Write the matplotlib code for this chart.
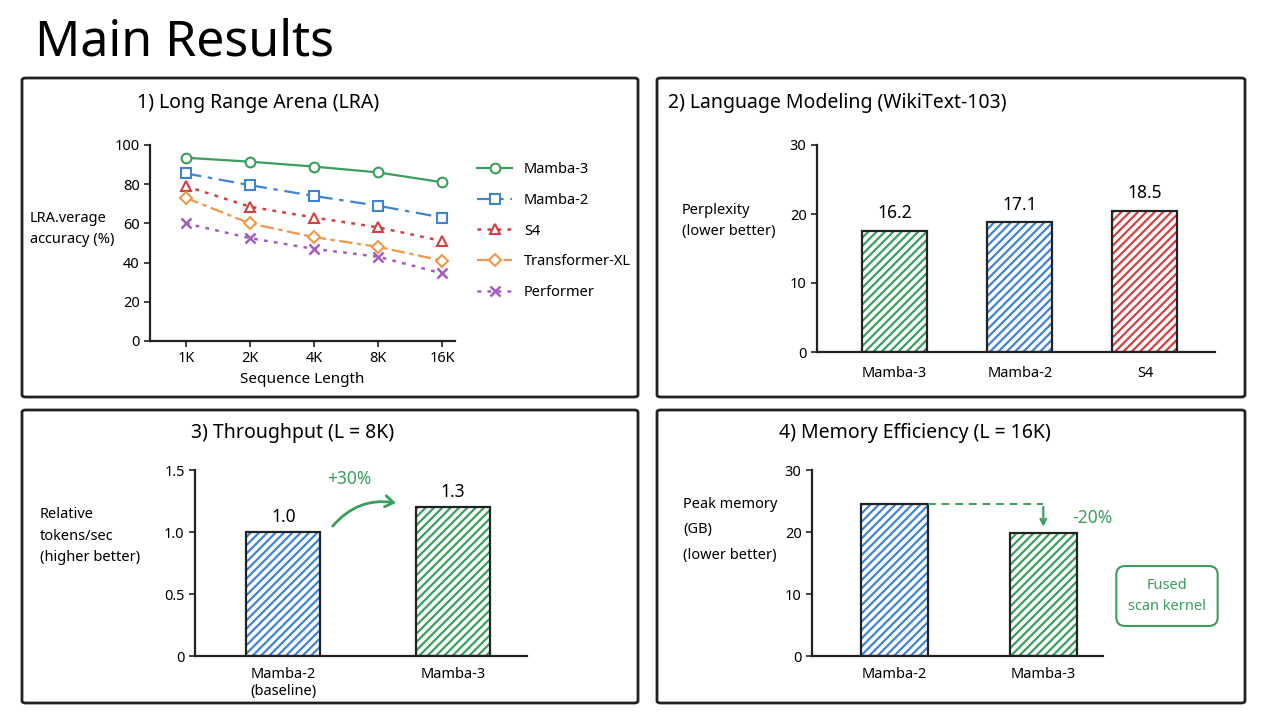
import numpy as np
import matplotlib
matplotlib.use("Agg")
import matplotlib.pyplot as plt
from matplotlib.patches import FancyBboxPatch, FancyArrowPatch

plt.rcParams['font.family'] = ['Noto Sans', 'DejaVu Sans']
plt.rcParams['hatch.linewidth'] = 1.6

# ---- data ----
seq_len = ['1K', '2K', '4K', '8K', '16K']
lra_models = ['Mamba-3', 'Mamba-2', 'S4', 'Transformer-XL', 'Performer']
lra_mamba3 = [93.5, 91.5, 89, 86, 81]
lra_mamba2 = [85.5, 79.5, 74, 69, 63]
lra_s4 = [79, 68.5, 63, 58, 51]
lra_txl = [73, 60, 53, 48, 41]
lra_perf = [60, 52.5, 47, 43, 34.5]

lm_models = ['Mamba-3', 'Mamba-2', 'S4']
lm_bar = [17.6, 18.8, 20.5]          # bar heights as drawn
lm_labels = ['16.2', '17.1', '18.5']  # printed values

tp_models = ['Mamba-2\n(baseline)', 'Mamba-3']
tp_bar = [1.0, 1.2]
tp_labels = ['1.0', '1.3']

mem_models = ['Mamba-2', 'Mamba-3']
mem_bar = [24.5, 19.8]

GREEN = '#3a9e5c'
BLUE = '#3f84d4'
RED = '#d2403f'
ORANGE = '#f0984a'
PURPLE = '#a45cc0'

fig = plt.figure(figsize=(12.8, 7.2), dpi=100)
fig.patch.set_facecolor('white')

fig.text(35/1280, 1 - 42/720, 'Main Results', fontsize=36, va='center', ha='left')

# panel frames (pixel coords -> fraction)
def frame(x0, y0, x1, y1):
    p = FancyBboxPatch((x0/1280, 1 - y1/720), (x1-x0)/1280, (y1-y0)/720,
                       boxstyle='round,pad=0,rounding_size=0.003',
                       transform=fig.transFigure, fill=False, lw=2, ec='#222222')
    fig.patches.append(p)

frame(22, 78, 638, 397)
frame(657, 78, 1245, 397)
frame(22, 410, 638, 703)
frame(657, 410, 1245, 703)

def make_ax(l, r, b, t):
    ax = fig.add_axes([l/1280, 1 - b/720, (r-l)/1280, (b-t)/720])
    for s in ['top', 'right']:
        ax.spines[s].set_visible(False)
    for s in ['left', 'bottom']:
        ax.spines[s].set_linewidth(1.6)
        ax.spines[s].set_color('#222222')
    ax.tick_params(labelsize=10.5, length=4, width=1.2, color='#222222')
    return ax

def hbar(ax, x, h, colors, width):
    ax.bar(x, h, width, color='white', edgecolor=colors, hatch='////', lw=0)
    ax.bar(x, h, width, fill=False, edgecolor='#222222', lw=1.6)

# ---- 1) LRA ----
ax1 = make_ax(150, 455, 341, 145)
xs = np.arange(len(seq_len))
mk = dict(ms=7, mfc='white', mew=1.5)
ax1.plot(xs, lra_mamba3, color=GREEN, ls='-', marker='o', lw=1.6, label=lra_models[0], **mk)
ax1.plot(xs, lra_mamba2, color=BLUE, ls=(0, (7, 3, 2, 3)), marker='s', lw=1.6, label=lra_models[1], **mk)
ax1.plot(xs, lra_s4, color=RED, ls=(0, (1.5, 2.5)), marker='^', lw=1.8, label=lra_models[2], **mk)
ax1.plot(xs, lra_txl, color=ORANGE, ls=(0, (6, 2, 2, 2)), marker='D', lw=1.6, label=lra_models[3], ms=6, mfc='white', mew=1.5)
ax1.plot(xs, lra_perf, color=PURPLE, ls=(0, (1.5, 2.5)), marker='x', lw=1.8, label=lra_models[4], ms=7, mew=1.8)
ax1.set_xlim(-0.56, 4.2)
ax1.set_ylim(0, 100)
ax1.set_xticks(xs)
ax1.set_xticklabels(seq_len)
ax1.set_yticks([0, 20, 40, 60, 80, 100])
ax1.set_xlabel('Sequence Length', fontsize=11)
ax1.legend(loc='upper left', bbox_to_anchor=(1.03, 0.98), frameon=False,
           fontsize=10.5, labelspacing=1.08, handlelength=2.4)
fig.text(30/1280, 1 - 229/720, 'LRA.verage\naccuracy (%)', fontsize=10.5,
         ha='left', va='center', linespacing=1.6)
fig.text(258/1280, 1 - 103/720, '1) Long Range Arena (LRA)', fontsize=14, ha='center', va='center')

# ---- 2) Language modeling ----
ax2 = make_ax(817, 1215, 352, 145)
x2 = np.arange(len(lm_models))
hbar(ax2, x2, lm_bar, [GREEN, BLUE, RED], 0.52)
for xi, h, t in zip(x2, lm_bar, lm_labels):
    ax2.text(xi, h + 1.2, t, ha='center', va='bottom', fontsize=12.5)
ax2.set_xlim(-0.62, 2.56)
ax2.set_ylim(0, 30)
ax2.set_yticks([0, 10, 20, 30])
ax2.set_xticks(x2)
ax2.set_xticklabels(lm_models)
ax2.tick_params(axis='x', length=0, pad=10)
fig.text(682/1280, 1 - 221/720, 'Perplexity\n(lower better)', fontsize=10.5,
         ha='left', va='center', linespacing=1.6)
fig.text(837/1280, 1 - 103/720, '2) Language Modeling (WikiText-103)', fontsize=14, ha='center', va='center')

# ---- 3) Throughput ----
ax3 = make_ax(195, 527, 656, 470)
x3 = np.arange(len(tp_models))
hbar(ax3, x3, tp_bar, [BLUE, GREEN], 0.435)
for xi, h, t in zip(x3, tp_bar, tp_labels):
    ax3.text(xi, h + 0.05, t, ha='center', va='bottom', fontsize=12.5)
ax3.set_xlim(-0.52, 1.435)
ax3.set_ylim(0, 1.5)
ax3.set_yticks([0, 0.5, 1.0, 1.5])
ax3.set_yticklabels(['0', '0.5', '1.0', '1.5'])
ax3.set_xticks(x3)
ax3.set_xticklabels(tp_models)
ax3.tick_params(axis='x', length=0, pad=8)
arr = FancyArrowPatch((0.28, 1.03), (0.68, 1.23), connectionstyle='arc3,rad=-0.3',
                      arrowstyle='->,head_length=6,head_width=4', color=GREEN, lw=2,
                      mutation_scale=1)
ax3.add_patch(arr)
ax3.text(0.39, 1.43, '+30%', color=GREEN, fontsize=12.5, ha='center', va='center')
fig.text(40/1280, 1 - 536/720, 'Relative\ntokens/sec\n(higher better)', fontsize=10.5,
         ha='left', va='center', linespacing=1.6)
fig.text(293/1280, 1 - 433/720, '3) Throughput (L = 8K)', fontsize=14, ha='center', va='center')

# ---- 4) Memory ----
ax4 = make_ax(812, 1103, 656, 470)
x4 = np.arange(len(mem_models))
hbar(ax4, x4, mem_bar, [BLUE, GREEN], 0.45)
ax4.set_xlim(-0.55, 1.40)
ax4.set_ylim(0, 30)
ax4.set_yticks([0, 10, 20, 30])
ax4.set_xticks(x4)
ax4.set_xticklabels(mem_models)
ax4.tick_params(axis='x', length=0, pad=8)
ax4.plot([0.225, 1], [mem_bar[0], mem_bar[0]], color=GREEN, ls=(0, (4, 3)), lw=1.4)
ax4.annotate('', xy=(1, mem_bar[1] + 0.6), xytext=(1, mem_bar[0]),
             arrowprops=dict(arrowstyle='->', color=GREEN, lw=1.6))
ax4.text(1.33, 22.3, '-20%', color=GREEN, fontsize=12.5, ha='center', va='center')
fig.text(1167/1280, 1 - 596/720, 'Fused\nscan kernel', color=GREEN, fontsize=10.5,
         ha='center', va='center', linespacing=1.6,
         bbox=dict(boxstyle='round,pad=0.8,rounding_size=0.6', fc='white', ec=GREEN, lw=1.5))
fig.text(683/1280, 1 - 530/720, 'Peak memory\n(GB)\n(lower better)', fontsize=10.5,
         ha='left', va='center', linespacing=2.0)
fig.text(915/1280, 1 - 433/720, '4) Memory Efficiency (L = 16K)', fontsize=14, ha='center', va='center')

fig.savefig('out.png', dpi=100)
